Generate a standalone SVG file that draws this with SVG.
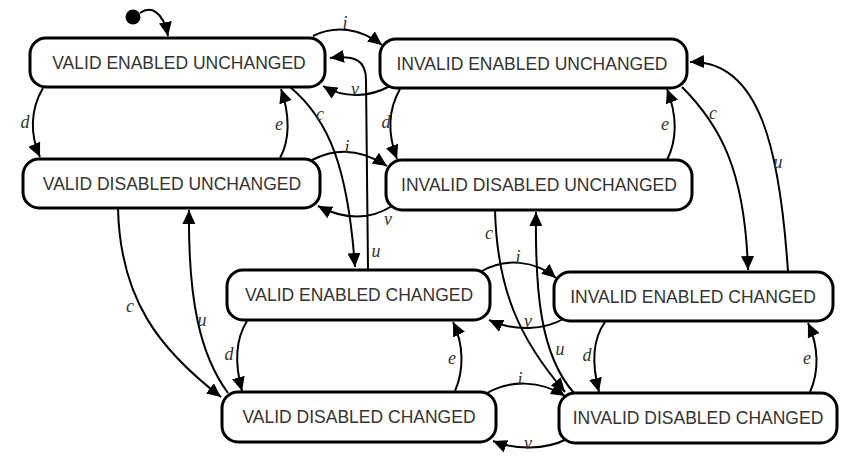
<svg xmlns="http://www.w3.org/2000/svg" width="851" height="466" viewBox="0 0 851 466">
<style>
.node rect{fill:#fff;stroke:#000;stroke-width:3}
.node text{font-family:"Liberation Sans",Arial,sans-serif;font-size:17.5px;fill:#333;text-anchor:middle;dominant-baseline:central}
.edges path{fill:none;stroke:#000;stroke-width:2;marker-end:url(#arr)}
.lbl text{font-family:"Liberation Serif","Times New Roman",serif;font-style:italic;font-size:18px;fill:#333;text-anchor:middle;dominant-baseline:central}
</style>
<defs>
<marker id="arr" markerUnits="userSpaceOnUse" markerWidth="15" markerHeight="13" refX="14" refY="6.5" orient="auto">
<path d="M0,0 L14,6.5 L0,13 z" fill="#000"/>
</marker>
</defs>
<rect width="851" height="466" fill="#fff"/>
<g id="edges" class="edges">
<path d="M140,13 C150,6 163,10 168,36"/>
<path d="M313,36 C335,25 360,28 382,45"/>
<path d="M390,86 C370,97 345,99 323,86"/>
<path d="M368,269 L366,80 C366,60 355,55 330,58"/>
<path d="M290,87 C330,120 348,170 355,267"/>
<path d="M43,88 C30,110 30,135 40,157"/>
<path d="M280,158 C290,140 290,115 281,89"/>
<path d="M312,160 C335,148 360,148 387,166"/>
<path d="M392,206 C370,220 345,220 318,206"/>
<path d="M400,89 C388,110 388,135 397,159"/>
<path d="M667,160 C677,140 677,115 667,89"/>
<path d="M682,87 C720,125 745,170 748,270"/>
<path d="M788,272 C780,150 760,60 690,62"/>
<path d="M118,208 C120,300 160,350 221,397"/>
<path d="M228,393 C200,355 188,300 189,210"/>
<path d="M247,321 C235,340 235,365 242,391"/>
<path d="M455,391 C464,370 464,345 453,322"/>
<path d="M482,271 C505,258 535,260 556,278"/>
<path d="M565,318 C545,330 515,332 489,320"/>
<path d="M605,322 C592,340 592,365 599,392"/>
<path d="M810,392 C819,372 819,347 808,323"/>
<path d="M487,393 C510,380 540,380 565,396"/>
<path d="M567,439 C545,450 515,450 493,441"/>
<path d="M495,210 C497,290 520,340 565,392"/>
<path d="M574,393 C540,355 535,290 536,212"/>
</g>
<circle id="start" cx="133" cy="17" r="7.5" fill="#000"/>
<g class="lbl">
<text x="345" y="23">i</text>
<text x="355" y="89">v</text>
<text x="320" y="114">c</text>
<text x="25" y="122">d</text>
<text x="279" y="124">e</text>
<text x="386" y="122">d</text>
<text x="665" y="124">e</text>
<text x="713" y="113">c</text>
<text x="778" y="162">u</text>
<text x="347" y="147">i</text>
<text x="388" y="219">v</text>
<text x="376" y="251">u</text>
<text x="489" y="233">c</text>
<text x="518" y="257">i</text>
<text x="528" y="321">v</text>
<text x="130" y="306">c</text>
<text x="202" y="320">u</text>
<text x="229" y="354">d</text>
<text x="452" y="358">e</text>
<text x="560" y="349">u</text>
<text x="587" y="355">d</text>
<text x="807" y="358">e</text>
<text x="520" y="379">i</text>
<text x="528" y="443">v</text>
</g>
<g id="veu" class="node"><rect x="30" y="38" width="295" height="49" rx="16"/><text x="179" y="62.5">VALID ENABLED UNCHANGED</text></g>
<g id="ieu" class="node"><rect x="380" y="39" width="307" height="49" rx="16"/><text x="532" y="63.5">INVALID ENABLED UNCHANGED</text></g>
<g id="vdu" class="node"><rect x="23" y="159" width="297" height="49" rx="16"/><text x="172" y="183.5">VALID DISABLED UNCHANGED</text></g>
<g id="idu" class="node"><rect x="386" y="160" width="306" height="50" rx="16"/><text x="539" y="185">INVALID DISABLED UNCHANGED</text></g>
<g id="vec" class="node"><rect x="227" y="270" width="263" height="50" rx="16"/><text x="359" y="295">VALID ENABLED CHANGED</text></g>
<g id="iec" class="node"><rect x="554" y="272" width="279" height="49" rx="16"/><text x="693" y="296.5">INVALID ENABLED CHANGED</text></g>
<g id="vdc" class="node"><rect x="222" y="392" width="274" height="50" rx="16"/><text x="359" y="417">VALID DISABLED CHANGED</text></g>
<g id="idc" class="node"><rect x="559" y="393" width="278" height="50" rx="16"/><text x="698" y="418">INVALID DISABLED CHANGED</text></g>
</svg>
